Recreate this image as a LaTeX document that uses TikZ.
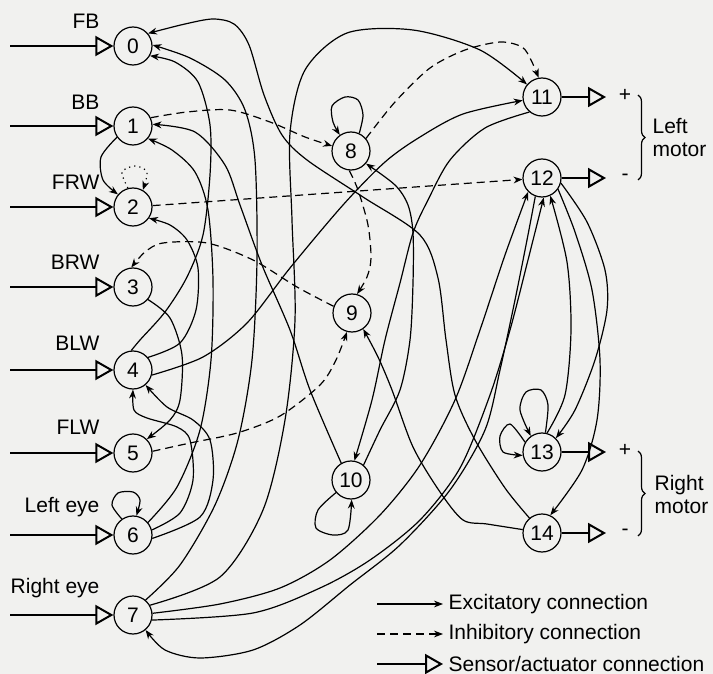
\documentclass[tikz,border=0pt]{standalone}
\usepackage{fontspec}
\setmainfont{Liberation Sans}
\usepackage{tikz}
\usetikzlibrary{arrows.meta,positioning,calc,decorations.pathreplacing}
\definecolor{mypaper}{RGB}{241,241,239}

\begin{document}
\begin{tikzpicture}[
  x=0.5pt,
  y=-0.5pt,
  line width=0.6pt,
  font=\fontsize{10.5}{11.5}\selectfont,
  myneuron/.style={
    draw,
    circle,
    line width=0.6pt,
    minimum size=19pt,
    inner sep=0pt
    },
  mysensor/.style={
    line width=1pt,
    -{Triangle[open,length=9pt,width=10pt,line width=1pt]}
    },
  myexc/.style={-{Stealth[length=4.5pt,width=3.4pt]}},
  myinh/.style={myexc, dash pattern=on 4pt off 2.5pt},
  mydot/.style={myexc, dotted},
  mylabel/.style={anchor=east, inner sep=0pt},
  mybrace/.style={decorate, decoration={brace, amplitude=3.5pt}}
]
\path[fill=mypaper, use as bounding box] (0,0) rectangle (713,674);

\node [myneuron] (n0) at (133,46) {0};
\node [myneuron] (n1) at (133,126) {1};
\node [myneuron] (n2) at (133,207) {2};
\node [myneuron] (n3) at (133,287) {3};
\node [myneuron] (n4) at (133,370) {4};
\node [myneuron] (n5) at (133,453) {5};
\node [myneuron] (n6) at (133,535) {6};
\node [myneuron] (n7) at (133,615) {7};
\node [myneuron] (n8) at (351,151) {8};
\node [myneuron] (n9) at (352,313) {9};
\node [myneuron] (n10) at (351,480) {10};
\node [myneuron] (n11) at (542,97) {11};
\node [myneuron] (n12) at (542,178) {12};
\node [myneuron] (n13) at (542,452) {13};
\node [myneuron] (n14) at (542,533) {14};

\node [mylabel] (lfb) at (100,21) {FB};
\node [mylabel] (lbb) at (100,102) {BB};
\node [mylabel] (lfrw) at (100,182) {FRW};
\node [mylabel] (lbrw) at (100,262) {BRW};
\node [mylabel] (lblw) at (100,343) {BLW};
\node [mylabel] (lflw) at (100,427) {FLW};
\node [mylabel] (lleft) at (100,507) {Left eye};
\node [mylabel] (lright) at (100,588) {Right eye};

\coordinate (in0) at (10,46);
\coordinate (in1) at (10,126);
\coordinate (in2) at (10,207);
\coordinate (in3) at (10,287);
\coordinate (in4) at (10,370);
\coordinate (in5) at (10,453);
\coordinate (in6) at (10,535);
\coordinate (in7) at (10,615);
\draw[mysensor] (in0) -- (n0);
\draw[mysensor] (in1) -- (n1);
\draw[mysensor] (in2) -- (n2);
\draw[mysensor] (in3) -- (n3);
\draw[mysensor] (in4) -- (n4);
\draw[mysensor] (in5) -- (n5);
\draw[mysensor] (in6) -- (n6);
\draw[mysensor] (in7) -- (n7);

\coordinate (out11) at (606,97);
\coordinate (out12) at (606,178);
\coordinate (out13) at (606,452);
\coordinate (out14) at (606,533);
\draw[mysensor] (n11) -- (out11);
\draw[mysensor] (n12) -- (out12);
\draw[mysensor] (n13) -- (out13);
\draw[mysensor] (n14) -- (out14);
\node (p11) at (625,95) {+};
\node (p12) at (625,177) {-};
\node (p13) at (625,450) {+};
\node (p14) at (625,532) {-};
\draw[mybrace] (638,95) -- (638,180);
\draw[mybrace] (638,451) -- (638,536);
\node [anchor=west, align=left, inner sep=0pt] (lmotor) at (652,138) {Left\\motor};
\node [anchor=west, align=left, inner sep=0pt] (rmotor) at (654,494) {Right\\motor};

\draw[myexc] plot[smooth] coordinates {(n14.130) (505,488) (475,440) (455,395) (446,340) (438,278) (420,235) (363,197) (307,160) (282,135) (264,95) (249,45) (234,24) (213,19) (185,24) (n0.40)};
\draw[myexc] plot[smooth] coordinates {(n7.50) (180,565) (215,505) (238,440) (252,360) (257,260) (255,160) (245,110) (225,80) (190,58) (n0.3)};
\draw[myexc] plot[smooth] coordinates {(n4.95) (140,340) (165,312) (187,277) (203,235) (210,175) (210,125) (198,82) (175,62) (n0.-30)};
\draw[myexc] plot[smooth] coordinates {(n6.40) (177,487) (200,430) (211,360) (213,280) (208,210) (195,172) (172,150) (n1.-40)};
\draw[myexc] plot[smooth] coordinates {(n6.15) (180,513) (193,480) (190,440) (177,427) (147,418) (134,410) (n4.-90)};
\draw[myexc] plot[smooth] coordinates {(n6.-10) (200,517) (213,480) (210,440) (193,420) (167,407) (n4.-50)};
\draw[myexc] plot[smooth] coordinates {(n4.40) (180,343) (196,310) (198,268) (187,240) (170,225) (n2.-35)};
\draw[myexc] plot[smooth] coordinates {(n3.-40) (170,318) (182,355) (180,400) (170,420) (n5.45)};
\draw[myexc] plot[smooth] coordinates {(n1.-145) (101,157) (103,180) (n2.140)};
\draw[mydot] plot[smooth] coordinates {(n2.105) (122,172) (135,166) (147,172) (n2.60)};
\draw[myexc] plot[smooth] coordinates {(n6.125) (112,505) (118,493) (133,492) (140,500) (n6.80)};
\draw[myexc] plot[smooth] coordinates {(n4.-15) (203,357) (247,323) (290,268) (343,205) (385,162) (420,137) (463,114) (n11.190)};
\draw[myexc] plot[smooth] coordinates {(n7.30) (220,577) (263,510) (285,420) (295,320) (292,220) (290,133) (305,70) (347,33) (413,30) (480,50) (n11.140)};
\draw[myexc] plot[smooth] coordinates {(n7.5) (220,604) (280,588) (330,560) (380,515) (420,465) (455,400) (480,330) (505,255) (n12.-135)};
\draw[myexc] plot[smooth] coordinates {(n7.-15) (253,613) (320,588) (370,560) (420,520) (460,468) (490,395) (510,330) (528,260) (n12.-85)};
\draw[myexc] plot[smooth] coordinates {(n12.-110) (527,240) (515,300) (500,370) (485,430) (450,490) (400,545) (350,585) (300,625) (253,650) (200,658) (165,650) (n7.-50)};
\draw[myexc] plot[smooth] coordinates {(n13.75) (565,395) (571,330) (567,262) (n12.-65)};
\draw[myexc] plot[smooth] coordinates {(n12.-15) (587,222) (605,270) (607,310) (595,360) (575,410) (n13.45)};
\draw[myexc] plot[smooth] coordinates {(n12.-35) (575,232) (592,290) (600,360) (597,420) (582,470) (n14.65)};
\draw[myexc] plot[smooth] coordinates {(n13.80) (548,405) (541,390) (526,392) (520,410) (n13.125)};
\draw[myexc] plot[smooth] coordinates {(n13.150) (510,424) (500,436) (503,452) (n13.-170)};
\draw[myexc] plot[smooth] coordinates {(n8.65) (363,115) (358,100) (345,97) (332,106) (333,122) (n8.125)};
\draw[myexc] plot[smooth] coordinates {(n10.-140) (318,510) (316,528) (333,535) (348,530) (n10.-88)};
\draw[myinh] plot[smooth] coordinates {(n1.25) (187,112) (230,110) (270,122) (305,137) (n8.165)};
\draw[myinh] plot[smooth] coordinates {(n8.40) (395,102) (430,68) (465,50) (500,42) (522,47) (531,60) (n11.100)};
\draw[myinh] plot[smooth] coordinates {(n8.-95) (358,190) (368,225) (371,258) (367,277) (n9.75)};
\draw[myinh] plot[smooth] coordinates {(n9.160) (297,287) (253,260) (207,243) (163,243) (145,252) (n3.95)};
\draw[myinh] plot[smooth] coordinates {(n5.5) (190,443) (237,433) (280,416) (320,385) (336,360) (n9.-105)};
\draw[myinh] (n2) -- (n12);
\draw[myexc] plot[smooth] coordinates {(n14.170) (487,524) (463,520) (440,492) (413,447) (392,390) (378,357) (n9.-55)};
\draw[myexc] plot[smooth] coordinates {(n10.50) (380,430) (400,390) (410,340) (413,283) (413,233) (408,205) (395,185) (n8.-40)};
\draw[myexc] plot[smooth] coordinates {(n11.-130) (485,128) (450,160) (428,200) (413,233) (400,283) (385,340) (372,400) (n10.80)};
\draw[myexc] plot[smooth] coordinates {(n10.120) (310,390) (290,330) (262,265) (240,205) (225,165) (195,132) (n1.5)};

\coordinate (le1) at (377,604);
\coordinate (le2) at (377,634);
\coordinate (le3) at (377,664);
\node [anchor=west, inner sep=2.5pt] (lt1) at (443,604) {Excitatory connection};
\node [anchor=west, inner sep=2.5pt] (lt2) at (443,634) {Inhibitory connection};
\node [anchor=west, inner sep=2.5pt] (lt3) at (443,664) {Sensor/actuator connection};
\draw[myexc] (le1) -- (lt1.west);
\draw[myinh] (le2) -- (lt2.west);
\draw[mysensor] (le3) -- (lt3.west);

\end{tikzpicture}
\end{document}
